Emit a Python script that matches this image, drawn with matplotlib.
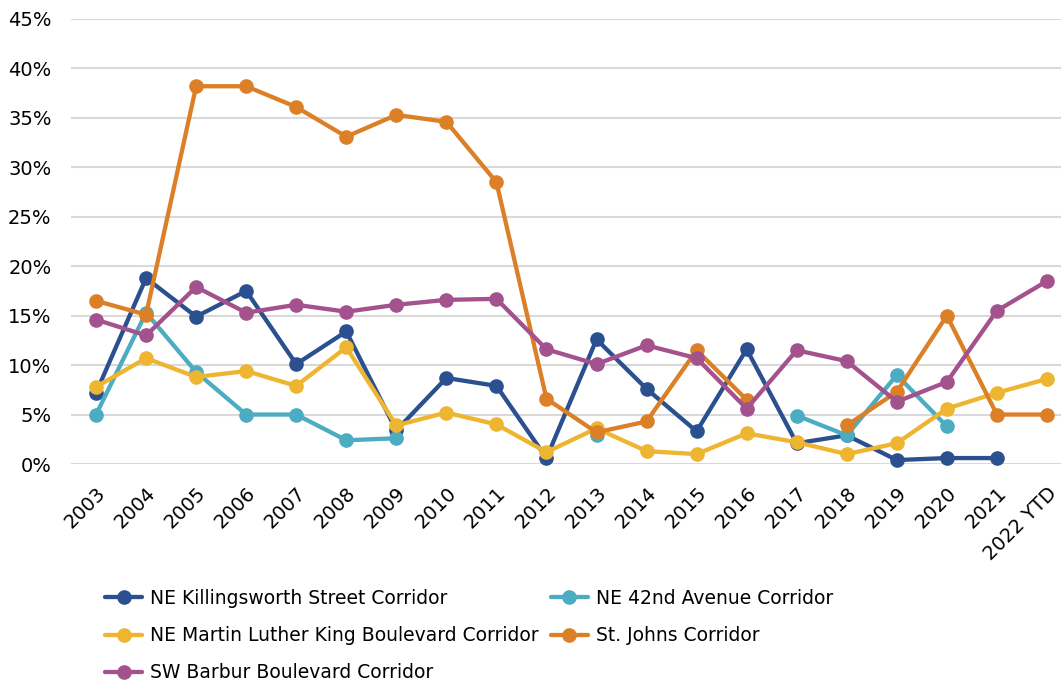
import numpy as np
import matplotlib.pyplot as plt

years = ['2003', '2004', '2005', '2006', '2007', '2008', '2009', '2010', '2011', '2012',
         '2013', '2014', '2015', '2016', '2017', '2018', '2019', '2020', '2021', '2022 YTD']

nan = np.nan
killingsworth = [7.2, 18.8, 14.9, 17.5, 10.1, 13.4, 3.4, 8.7, 7.9, 0.6,
                 12.6, 7.6, 3.3, 11.6, 2.1, 2.9, 0.4, 0.6, 0.6, nan]
ave42 = [5.0, 15.3, 9.3, 5.0, 5.0, 2.4, 2.6, nan, nan, nan,
         2.9, nan, nan, nan, 4.9, 2.9, 9.0, 3.8, nan, nan]
mlk = [7.8, 10.7, 8.8, 9.4, 7.9, 11.8, 3.9, 5.2, 4.0, 1.2,
       3.6, 1.3, 1.0, 3.1, 2.2, 1.0, 2.1, 5.6, 7.2, 8.6]
st_johns = [16.5, 15.1, 38.2, 38.2, 36.1, 33.1, 35.3, 34.6, 28.5, 6.6,
            3.2, 4.3, 11.5, 6.5, nan, 3.9, 7.3, 15.0, 5.0, 5.0]
barbur = [14.6, 13.0, 17.9, 15.3, 16.1, 15.4, 16.1, 16.6, 16.7, 11.6,
          10.1, 12.0, 10.7, 5.6, 11.5, 10.4, 6.3, 8.3, 15.5, 18.5]

names = ['NE Killingsworth Street Corridor', 'NE 42nd Avenue Corridor',
         'NE Martin Luther King Boulevard Corridor', 'St. Johns Corridor',
         'SW Barbur Boulevard Corridor']
colors = ['#2B5090', '#4BACC2', '#EEB530', '#DC8028', '#A3528D']
series = [killingsworth, ave42, mlk, st_johns, barbur]

plt.rcParams['font.family'] = ['DejaVu Sans']

fig = plt.figure(figsize=(10.61, 6.83), dpi=100)
ax = fig.add_axes([71 / 1061, 1 - 464 / 683, 1001 / 1061, 445 / 683])

x = np.arange(len(years))
handles = []
for vals, name, col in zip(series, names, colors):
    y = np.array(vals, dtype=float) / 100
    h, = ax.plot(x, y, color=col, lw=3.1, marker='o', markersize=9.5,
                 solid_capstyle='round', label=name, clip_on=False)
    handles.append(h)

ax.set_xlim(-0.5, len(years) - 0.5)
ax.set_ylim(0, 0.45)
ticks = np.arange(0, 0.451, 0.05)
ax.set_yticks(ticks)
ax.set_yticklabels([f'{int(round(v * 100))}%' for v in ticks], fontsize=14)
ax.set_xticks(x)
ax.set_xticklabels(years, rotation=45, ha='right', rotation_mode='anchor', fontsize=14)
ax.tick_params(axis='y', length=0, pad=14)
ax.tick_params(axis='x', length=0, pad=14)
ax.grid(axis='y', color='#D9D9D9', lw=1.5)
ax.set_axisbelow(True)
for s in ax.spines.values():
    s.set_visible(False)

# ordine riga per riga nella legenda a due colonne
order = [0, 2, 4, 1, 3]
fig.legend([handles[i] for i in order], [names[i] for i in order], ncol=2,
           loc='upper left', bbox_to_anchor=(88 / 1061, 1 - 572 / 683),
           frameon=False, fontsize=13.5, handlelength=2.0, handletextpad=0.4,
           columnspacing=0.65, labelspacing=0.97)

plt.savefig('out.png', dpi=100)
